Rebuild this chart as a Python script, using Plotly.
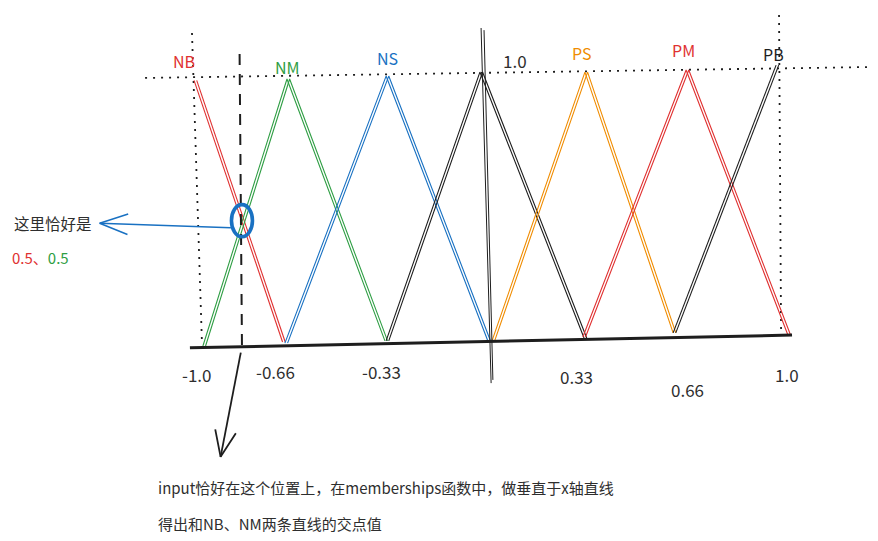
import math
import plotly.graph_objects as go

# ---------------- data ----------------
# membership functions: x on the universe [-1, 1], y = membership degree
NB_x = [-1.01, -0.71]
NB_y = [0.98, 0.0]
NM_x = [-0.98, -0.695, -0.363]
NM_y = [-0.015, 0.985, 0.004]
NS_x = [-0.702, -0.359, -0.014]
NS_y = [-0.004, 0.996, 0.004]
ZO_x = [-0.359, -0.041, 0.312]
ZO_y = [0.004, 1.011, 0.015]
PS_x = [0.0, 0.315, 0.614]
PS_y = [0.004, 1.011, 0.034]
PM_x = [0.308, 0.658, 1.003]
PM_y = [0.019, 1.019, 0.026]
PB_x = [0.614, 0.963]
PB_y = [0.034, 1.037]

set_labels = ["NB", "NM", "NS", "", "PS", "PM", "PB"]
peak_label = "1.0"

tick_values = [-1.0, -0.66, -0.33, 0.33, 0.66, 1.0]
tick_labels = ["-1.0", "-0.66", "-0.33", "0.33", "0.66", "1.0"]

# hand-drawn guide lines
axis_x = [-1.024, 1.017]
axis_y = [-0.022, 0.026]
top_guide_x = [-1.176, 1.288]
top_guide_y = [0.989, 1.030]
left_guide_x = [-1.017, -0.983]
left_guide_y = [1.157, -0.011]
right_guide_x = [0.973, 0.980]
right_guide_y = [1.225, 0.026]
center_x_a = [-0.037, -0.003]
center_x_b = [-0.027, 0.003]
center_y_a = [1.176, -0.154]
center_y_b = [1.168, -0.142]
input_top = 1.079
input_bottom = -0.011
callout_tip = (-1.33, 0.445)
down_arrow_start_y = -0.04
down_arrow_tip = (-0.92, -0.43)

note_left = "这里恰好是"
note_values = ["0.5、", "0.5"]
note_bottom_1 = "input恰好在这个位置上，在memberships函数中，做垂直于x轴直线"
note_bottom_2 = "得出和NB、NM两条直线的交点值"

# ---------------- style ----------------
W, H = 878, 541
PXX, PXY = 295.0, 267.0          # pixels per data unit
X_RANGE = [-1 - 197 / PXX, -1 - 197 / PXX + W / PXX]
Y_RANGE = [1 + 75 / PXY - H / PXY, 1 + 75 / PXY]
RED, GREEN, BLUE, ORANGE, BLACK = "#e03131", "#2f9e44", "#1971c2", "#f08c00", "#1e1e1e"
TEXT = "#2e2e2e"
FONT = "Noto Sans CJK SC"

sets = [
    (NB_x, NB_y, RED), (NM_x, NM_y, GREEN), (NS_x, NS_y, BLUE),
    (ZO_x, ZO_y, BLACK), (PS_x, PS_y, ORANGE), (PM_x, PM_y, RED),
    (PB_x, PB_y, BLACK),
]
label_shift = [(-10, 19), (1, 12), (1, 18), (0, 0), (-3, 19), (-3, 20), (-3, 11)]
tick_shift = [(0, 374), (-22, 371), (-13, 371), (-13, 376), (1, 389), (0, 374)]

fig = go.Figure()


def line(xs, ys, color, width=1.1, dash=None):
    fig.add_trace(go.Scatter(
        x=xs, y=ys, mode="lines",
        line=dict(color=color, width=width, dash=dash),
        hoverinfo="skip", showlegend=False))


def arrow_head(tip, start, length_px, angle_deg, color, width):
    # direction from tip back to start in pixel space
    dx = (start[0] - tip[0]) * PXX
    dy = (start[1] - tip[1]) * PXY
    n = math.hypot(dx, dy)
    dx, dy = dx / n, dy / n
    pts_x, pts_y = [], []
    for sgn in (1, -1):
        a = math.radians(angle_deg * sgn)
        rx = dx * math.cos(a) - dy * math.sin(a)
        ry = dx * math.sin(a) + dy * math.cos(a)
        pts_x.append(tip[0] + rx * length_px / PXX)
        pts_y.append(tip[1] + ry * length_px / PXY)
    line([pts_x[0], tip[0], pts_x[1]], [pts_y[0], tip[1], pts_y[1]], color, width)


# guides
dot = "2px,6px"
line(top_guide_x, top_guide_y, BLACK, 1.8, dot)
line(left_guide_x, left_guide_y, BLACK, 1.8, dot)
line(right_guide_x, right_guide_y, BLACK, 1.8, dot)

# membership functions, drawn with a double stroke like a sketch
for xs, ys, col in sets:
    line(xs, ys, col, 1.1)
    line([v + 0.009 for v in xs], ys, col, 1.1)

# center double vertical
line(center_x_a, center_y_a, BLACK, 1.0)
line(center_x_b, center_y_b, BLACK, 1.0)

# x axis (thick hand-drawn line)
line(axis_x, axis_y, BLACK, 3)

# intersection of NB and NM rising edge -> input position
x1, y1, x2, y2 = NB_x[0], NB_y[0], NB_x[1], NB_y[1]
x3, y3, x4, y4 = NM_x[0], NM_y[0], NM_x[1], NM_y[1]
den = (x1 - x2) * (y3 - y4) - (y1 - y2) * (x3 - x4)
t = ((x1 - x3) * (y3 - y4) - (y1 - y3) * (x3 - x4)) / den
cx, cy = x1 + t * (x2 - x1), y1 + t * (y2 - y1)

# dashed input line
line([cx - 0.008, cx], [input_top, input_bottom], BLACK, 2, "11px,9px")

# down arrow
d_start = (cx - 0.004, down_arrow_start_y)
line([d_start[0], down_arrow_tip[0]], [d_start[1], down_arrow_tip[1]], BLACK, 1.8)
arrow_head(down_arrow_tip, d_start, 28, 22, BLACK, 1.8)

# ellipse around intersection
rx, ry = 10.5 / PXX, 16.0 / PXY
fig.add_shape(type="circle", xref="x", yref="y",
              x0=cx - rx, x1=cx + rx, y0=cy - ry + 0.005, y1=cy + ry + 0.005,
              line=dict(color=BLUE, width=3.6))

# blue callout arrow
c_start = (cx - rx - 0.002, cy - 0.022)
line([c_start[0], callout_tip[0]], [c_start[1], callout_tip[1]], BLUE, 1.5)
arrow_head(callout_tip, c_start, 30, 20, BLUE, 1.5)

# set labels
ann = []
for (xs, ys, col), lab, (sx, sy) in zip(sets, set_labels, label_shift):
    if not lab:
        continue
    k = ys.index(max(ys))
    ann.append(dict(x=xs[k], y=ys[k], xref="x", yref="y", text=lab, showarrow=False,
                    xshift=sx, yshift=sy, font=dict(family=FONT, size=16, color=col)))
k = ZO_y.index(max(ZO_y))
ann.append(dict(x=ZO_x[k], y=ZO_y[k], xref="x", yref="y", text=peak_label, showarrow=False,
                xshift=35, yshift=12, font=dict(family=FONT, size=17, color=TEXT)))

# tick labels
for v, lab, (sx, py) in zip(tick_values, tick_labels, tick_shift):
    ann.append(dict(x=v, y=1 - py / H, xref="x", yref="paper", text=lab, showarrow=False,
                    xshift=sx, yanchor="middle", font=dict(family=FONT, size=17, color=TEXT)))

# notes
ann.append(dict(x=12 / W, y=1 - 223 / H, xref="paper", yref="paper", text=note_left,
                showarrow=False, xanchor="left", yanchor="middle",
                font=dict(family=FONT, size=15.5, color=TEXT)))
ann.append(dict(x=10 / W, y=1 - 257 / H, xref="paper", yref="paper",
                text=f"<span style='color:{RED}'>{note_values[0]}</span>"
                     f"<span style='color:{GREEN}'>{note_values[1]}</span>",
                showarrow=False, xanchor="left", yanchor="middle",
                font=dict(family=FONT, size=15, color=TEXT)))
ann.append(dict(x=156 / W, y=1 - 487 / H, xref="paper", yref="paper", text=note_bottom_1,
                showarrow=False, xanchor="left", yanchor="middle",
                font=dict(family=FONT, size=15, color=TEXT)))
ann.append(dict(x=156 / W, y=1 - 523 / H, xref="paper", yref="paper", text=note_bottom_2,
                showarrow=False, xanchor="left", yanchor="middle",
                font=dict(family=FONT, size=15, color=TEXT)))

fig.update_layout(
    width=W, height=H, autosize=False,
    margin=dict(l=0, r=0, t=0, b=0, pad=0),
    paper_bgcolor="white", plot_bgcolor="white",
    xaxis=dict(range=X_RANGE, visible=False, fixedrange=True),
    yaxis=dict(range=Y_RANGE, visible=False, fixedrange=True),
    annotations=ann, showlegend=False, hovermode=False,
)

fig.write_html("out.html", config={"displayModeBar": False})
